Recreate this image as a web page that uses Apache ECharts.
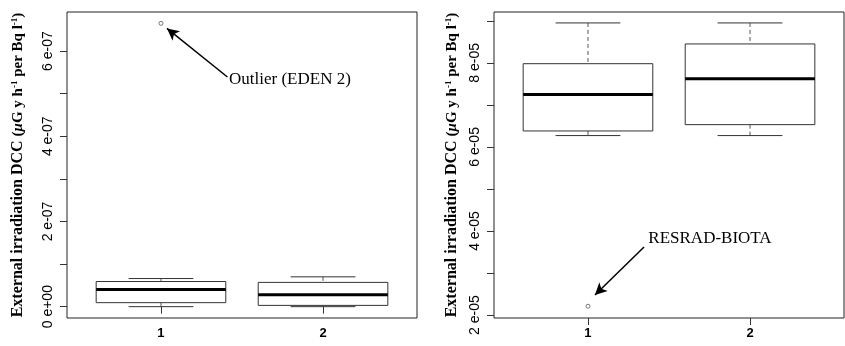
<!DOCTYPE html>
<html>
<head>
<meta charset="utf-8">
<script src="https://cdn.jsdelivr.net/npm/echarts@6/dist/echarts.min.js"></script>
<style>
  html, body { margin: 0; padding: 0; background: #fff; }
  #main { width: 845px; height: 346px; }
</style>
</head>
<body>
<div id="main"></div>
<script>
// two boxplots side by side, R style
const groups = [1, 2];
const groupLabels = ['1', '2'];

// [group, lower whisker, Q1, median, Q3, upper whisker]
const leftBoxes = [
  [1, 0, 0.094e-7, 0.405e-7, 0.59e-7, 0.66e-7],
  [2, 0, 0.03e-7, 0.28e-7, 0.57e-7, 0.70e-7]
];
const leftOutliers = [[1, 6.65e-7]];
const leftTicks = [0, 1e-7, 2e-7, 3e-7, 4e-7, 5e-7, 6e-7];
const leftLabels = [0, 2e-7, 4e-7, 6e-7];

const rightBoxes = [
  [1, 6.27e-5, 6.38e-5, 7.25e-5, 7.98e-5, 8.95e-5],
  [2, 6.27e-5, 6.53e-5, 7.62e-5, 8.45e-5, 8.95e-5]
];
const rightOutliers = [[1, 2.21e-5]];
const rightTicks = [2e-5, 3e-5, 4e-5, 5e-5, 6e-5, 7e-5, 8e-5, 9e-5];
const rightLabels = [2e-5, 4e-5, 6e-5, 8e-5];

const SANS = '"Liberation Sans", Arial, sans-serif';
const SERIF = '"Liberation Serif", "Times New Roman", serif';

function fmtLeft(v) {
  const n = Math.round(v / 1e-7);
  return n === 0 ? '0 e+00' : n + ' e-07';
}
function fmtRight(v) {
  return Math.round(v / 1e-5) + ' e-05';
}

function renderBox(params, api) {
  const x = api.value(0);
  const half = api.size([0.4, 0])[0];
  const capHalf = api.size([0.2, 0])[0];
  const p = k => api.coord([x, api.value(k)]);
  const lo = p(1), q1 = p(2), med = p(3), q3 = p(4), hi = p(5);
  const cx = lo[0];
  const dashed = { stroke: '#555', lineWidth: 1, lineDash: [4, 3] };
  const solid = { stroke: '#333', lineWidth: 1 };
  return {
    type: 'group',
    children: [
      { type: 'line', shape: { x1: cx, y1: hi[1], x2: cx, y2: q3[1] }, style: dashed },
      { type: 'line', shape: { x1: cx, y1: q1[1], x2: cx, y2: lo[1] }, style: dashed },
      { type: 'line', shape: { x1: cx - capHalf, y1: hi[1], x2: cx + capHalf, y2: hi[1] }, style: solid },
      { type: 'line', shape: { x1: cx - capHalf, y1: lo[1], x2: cx + capHalf, y2: lo[1] }, style: solid },
      { type: 'rect', shape: { x: cx - half, y: q3[1], width: 2 * half, height: q1[1] - q3[1] },
        style: { fill: '#fff', stroke: '#333', lineWidth: 1 } },
      { type: 'line', shape: { x1: cx - half, y1: med[1], x2: cx + half, y2: med[1] },
        style: { stroke: '#000', lineWidth: 3 } }
    ]
  };
}

const yTitle = {
  name: '{a|External irradiation DCC }{b|(}{i|μ}{b|G y h}{s|-1}{b| per Bq l}{s|-1}{b|)}',
  nameLocation: 'middle',
  nameRotate: 90,
  nameTextStyle: {
    rich: {
      a: { fontFamily: SERIF, fontSize: 16, fontWeight: 'bold', color: '#000' },
      b: { fontFamily: SERIF, fontSize: 15, fontWeight: 'bold', color: '#000' },
      i: { fontFamily: SERIF, fontSize: 15, fontWeight: 'bold', fontStyle: 'italic', color: '#000' },
      s: { fontFamily: SERIF, fontSize: 9, fontWeight: 'bold', color: '#000', padding: [0, 0, 6, 0] }
    }
  }
};

function xAxisFor(gridIndex) {
  return {
    type: 'value', gridIndex, min: 0.42, max: 2.58,
    splitLine: { show: false },
    axisLine: { show: false },
    axisTick: { show: true, length: 7, inside: false, customValues: groups, lineStyle: { color: '#333' } },
    axisLabel: {
      customValues: groups, margin: 9,
      formatter: v => groupLabels[groups.indexOf(v)] || '',
      fontFamily: SANS, fontSize: 13, fontWeight: 'bold', color: '#000'
    }
  };
}

function yAxisFor(gridIndex, min, max, ticks, labels, fmt, gap) {
  return Object.assign({
    type: 'value', gridIndex, min, max, nameGap: gap,
    splitLine: { show: false },
    axisLine: { show: false },
    axisTick: { show: true, length: 7, customValues: ticks, lineStyle: { color: '#333' } },
    axisLabel: {
      customValues: labels, rotate: 90, margin: 12,
      formatter: fmt, fontFamily: SANS, fontSize: 14, color: '#000'
    }
  }, yTitle);
}

const chart = echarts.init(document.getElementById('main'));
chart.setOption({
  backgroundColor: '#fff',
  animation: false,
  grid: [
    { left: 67, top: 12, width: 350, height: 306, show: true, borderColor: '#222', borderWidth: 1 },
    { left: 494, top: 12, width: 350, height: 306, show: true, borderColor: '#222', borderWidth: 1 }
  ],
  xAxis: [xAxisFor(0), xAxisFor(1)],
  yAxis: [
    yAxisFor(0, -0.266e-7, 6.916e-7, leftTicks, leftLabels, fmtLeft, 41),
    yAxisFor(1, 1.93e-5, 9.21e-5, rightTicks, rightLabels, fmtRight, 34)
  ],
  series: [
    { type: 'custom', xAxisIndex: 0, yAxisIndex: 0, renderItem: renderBox, data: leftBoxes,
      encode: { x: 0, y: [1, 2, 3, 4, 5] }, clip: false },
    { type: 'custom', xAxisIndex: 1, yAxisIndex: 1, renderItem: renderBox, data: rightBoxes,
      encode: { x: 0, y: [1, 2, 3, 4, 5] }, clip: false },
    {
      type: 'scatter', xAxisIndex: 0, yAxisIndex: 0, data: leftOutliers,
      symbol: 'circle', symbolSize: 4,
      itemStyle: { color: '#fff', borderColor: '#333', borderWidth: 0.8 },
      markLine: {
        silent: true, symbol: ['none', 'arrow'], symbolSize: [9, 12],
        lineStyle: { color: '#000', width: 1.5, type: 'solid' },
        label: { show: false },
        data: [[{ coord: [1.41, 5.39e-7] }, { coord: [1.037, 6.53e-7] }]]
      },
      markPoint: {
        silent: true, symbol: 'circle', symbolSize: 0,
        label: { show: true, position: 'right', distance: 0, formatter: 'Outlier (EDEN 2)',
          fontFamily: SERIF, fontSize: 17, color: '#000' },
        data: [{ coord: [1.42, 5.32e-7] }]
      }
    },
    {
      type: 'scatter', xAxisIndex: 1, yAxisIndex: 1, data: rightOutliers,
      symbol: 'circle', symbolSize: 4,
      itemStyle: { color: '#fff', borderColor: '#333', borderWidth: 0.8 },
      markLine: {
        silent: true, symbol: ['none', 'arrow'], symbolSize: [9, 12],
        lineStyle: { color: '#000', width: 1.5, type: 'solid' },
        label: { show: false },
        data: [[{ coord: [1.346, 3.62e-5] }, { coord: [1.043, 2.476e-5] }]]
      },
      markPoint: {
        silent: true, symbol: 'circle', symbolSize: 0,
        label: { show: true, position: 'inside', formatter: 'RESRAD-BIOTA',
          fontFamily: SERIF, fontSize: 17, color: '#000' },
        data: [{ coord: [1.753, 3.81e-5] }]
      }
    }
  ]
});
</script>
</body>
</html>
